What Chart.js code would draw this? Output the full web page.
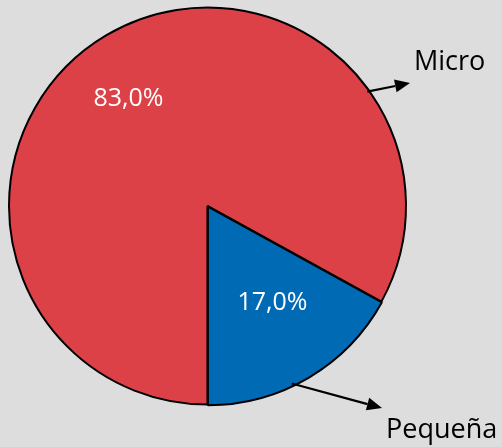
<!DOCTYPE html>
<html>
<head>
<meta charset="utf-8">
<script src="https://cdn.jsdelivr.net/npm/chart.js@4.4.0/dist/chart.umd.min.js"></script>
<style>
  html, body { margin: 0; padding: 0; background: #DDDDDD; }
  #wrap { width: 502px; height: 447px; }
</style>
</head>
<body>
<div id="wrap"><canvas id="myChart" width="502" height="447"></canvas></div>
<script>
const labels = ['Micro', 'Pequeña'];
const values = [83.0, 17.0];
const colors = ['#DC4147', '#006AB5'];

const fmt = v => v.toFixed(1).replace('.', ',') + '%';

// percent labels inside the slices + category labels with arrows outside
const pieLabels = {
  id: 'pieLabels',
  afterDatasetsDraw(chart) {
    const ctx = chart.ctx;
    const meta = chart.getDatasetMeta(0);
    const arc0 = meta.data[0];
    const cx = arc0.x, cy = arc0.y, r = arc0.outerRadius;
    ctx.save();
    ctx.fillStyle = '#FFFFFF';
    ctx.font = '25px "Open Sans"';
    ctx.textAlign = 'center';
    ctx.textBaseline = 'middle';
    ctx.fillText(fmt(values[0]), cx - 79, cy - 107);
    ctx.fillText(fmt(values[1]), cx + 65, cy + 97);

    const arrow = (a, x2, y2) => {
      const rad = a * Math.PI / 180;
      const x1 = cx + Math.cos(rad) * (r - 2);
      const y1 = cy + Math.sin(rad) * (r - 2);
      const ang = Math.atan2(y2 - y1, x2 - x1);
      const hl = 15, hw = 6.5;
      const bx = x2 - Math.cos(ang) * hl, by = y2 - Math.sin(ang) * hl;
      ctx.strokeStyle = '#000';
      ctx.lineWidth = 2.2;
      ctx.beginPath();
      ctx.moveTo(x1, y1);
      ctx.lineTo(bx, by);
      ctx.stroke();
      ctx.fillStyle = '#000';
      ctx.beginPath();
      ctx.moveTo(x2, y2);
      ctx.lineTo(bx + Math.sin(ang) * hw, by - Math.cos(ang) * hw);
      ctx.lineTo(bx - Math.sin(ang) * hw, by + Math.cos(ang) * hw);
      ctx.closePath();
      ctx.fill();
    };
    arrow(-35.6, 410, 83);
    arrow(64.6, 382, 408);

    ctx.fillStyle = '#000';
    ctx.font = '27px "Open Sans"';
    ctx.textAlign = 'left';
    ctx.textBaseline = 'alphabetic';
    ctx.fillText(labels[0], 414, 70);
    ctx.fillText(labels[1], 386, 438);
    ctx.restore();
  }
};

const ctx = document.getElementById('myChart').getContext('2d');
const myChart = new Chart(ctx, {
  type: 'pie',
  data: {
    labels: labels,
    datasets: [
      {
        data: values,
        backgroundColor: colors,
        borderColor: '#000000',
        borderWidth: 2,
        offset: [0, 3],
      },
    ],
  },
  options: {
    responsive: false,
    animation: false,
    rotation: 180,
    layout: {
      padding: { left: 6, right: 93, top: 5, bottom: 40 },
    },
    plugins: {
      legend: { display: false },
      tooltip: { enabled: false },
    },
  },
  plugins: [pieLabels],
});
</script>
</body>
</html>
